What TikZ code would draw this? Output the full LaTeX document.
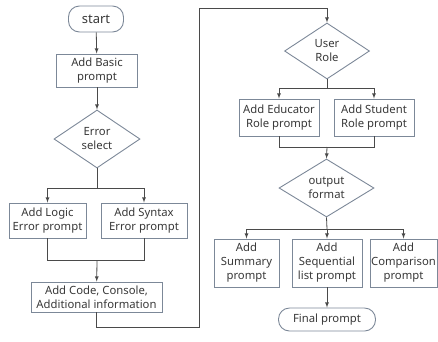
\documentclass[tikz,border=0pt]{standalone}
\usepackage{fontspec}
\setmainfont{Noto Sans}
\usetikzlibrary{shapes.geometric}
\definecolor{boxline}{HTML}{7C8898}
\definecolor{arrline}{HTML}{4A4A4A}
\definecolor{txt}{HTML}{383838}
\begin{document}
\begin{tikzpicture}[x=1pt, y=-1pt,
        every node/.style={font=\fontsize{11.3}{14}\selectfont, text=txt, align=center},
        box/.style={draw=boxline, line width=0.9pt, rectangle, inner sep=1pt},
        term/.style={draw=boxline, line width=0.9pt, rectangle, rounded corners=11pt, inner sep=1pt},
        choice/.style={draw=boxline, line width=0.9pt, diamond, inner sep=0pt},
        flow/.style={draw=arrline, line width=0.8pt},
        go/.style={flow, -latex}]
    \useasboundingbox (0, 0) rectangle (438, 341);
    % left column
    \node[term, minimum width=55, minimum height=26, font=\fontsize{13}{14}\selectfont] (start) at (96, 19) {start};
    \node[box, minimum width=81, minimum height=33] (basic) at (97, 70.5) {Add Basic\\prompt};
    \node[choice, minimum width=86, minimum height=58] (errsel) at (97, 139) {Error\\select};
    \node[box, minimum width=77, minimum height=35] (logic) at (47.5, 220.5) {Add Logic\\Error prompt};
    \node[box, minimum width=86, minimum height=35] (syntax) at (144, 220.5) {Add Syntax\\Error prompt};
    \node[box, minimum width=131, minimum height=30] (code) at (96.5, 297) {Add Code, Console,\\Additional information};
    \coordinate (errsplit) at (97, 188);
    \coordinate (errmerge) at (97, 260);
    \coordinate (jumpbot) at (199, 327);
    \coordinate (jumptop) at (199, 8);
    % right column
    \node[choice, minimum width=85, minimum height=56] (role) at (327, 51) {User\\Role};
    \node[box, minimum width=80, minimum height=37] (educator) at (279, 117.5) {Add Educator\\Role prompt};
    \node[box, minimum width=80, minimum height=37] (student) at (374, 117.5) {Add Student\\Role prompt};
    \node[choice, minimum width=95, minimum height=58] (format) at (326.5, 188) {output\\format};
    \node[box, minimum width=65, minimum height=48] (summary) at (246.5, 263) {Add\\Summary\\prompt};
    \node[box, minimum width=70, minimum height=48] (seqlist) at (327, 263) {Add\\Sequential\\list prompt};
    \node[box, minimum width=67, minimum height=48] (compare) at (403.5, 263) {Add\\Comparison\\prompt};
    \node[term, minimum width=97, minimum height=23] (final) at (327, 319.5) {Final prompt};
    \coordinate (rolesplit) at (327, 88);
    \coordinate (rolemerge) at (327, 147);
    \coordinate (fmtsplit) at (327, 229);

    \draw[go] (start) -- (basic);
    \draw[go] (basic) -- (errsel);
    \draw[flow] (errsel.south) -- (errsplit);
    \draw[go] (errsplit) -| (logic.north);
    \draw[go] (errsplit) -| (syntax.north);
    \draw[flow] (logic.south) |- (errmerge);
    \draw[flow] (syntax.south) |- (errmerge);
    \draw[go] (errmerge) -- (code);
    \draw[go] (code.south) |- (jumpbot) -- (jumptop) -| (role.north);
    \draw[flow] (role.south) -- (rolesplit);
    \draw[go] (rolesplit) -| (educator.north);
    \draw[go] (rolesplit) -| (student.north);
    \draw[flow] (educator.south) |- (rolemerge);
    \draw[flow] (student.south) |- (rolemerge);
    \draw[go] (rolemerge) -- (format.north);
    \draw[flow] (format.south) -- (fmtsplit);
    \draw[go] (fmtsplit) -| (summary.north);
    \draw[go] (fmtsplit) -- (seqlist.north);
    \draw[go] (fmtsplit) -| (compare.north);
    \draw[go] (seqlist) -- (final);
\end{tikzpicture}
\end{document}
